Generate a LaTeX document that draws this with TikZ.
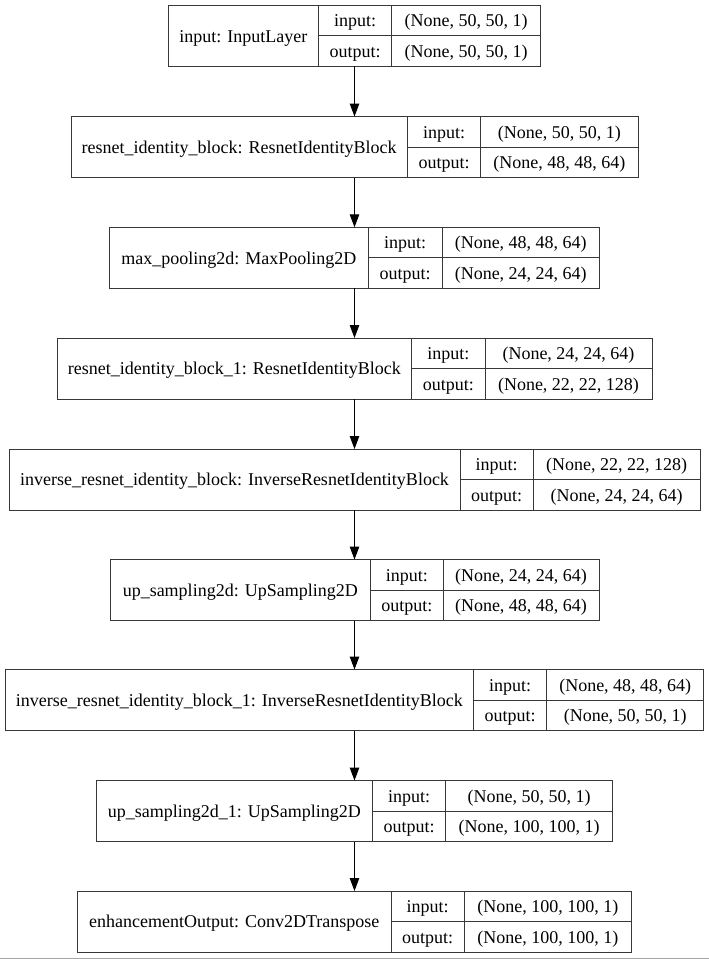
\documentclass[tikz,border=0pt]{standalone}
\usepackage{fontspec}
\setmainfont{Liberation Serif}
\usetikzlibrary{arrows.meta}
\tikzset{
  fullbox/.style={rectangle, inner sep=0pt, outer sep=0pt, minimum height=61pt},
  cellbox/.style={rectangle, draw=black!78, line width=0.9pt, inner sep=0pt, outer sep=0pt,
    text height=14.5pt, text depth=2pt, font=\fontsize{18}{20}\selectfont},
  flow/.style={draw=black, line width=1.1pt, -{Triangle[length=13pt,width=9.5pt]}},
}
% #1 id, #2 top, #3 left, #4 divider1, #5 divider2, #6 right, #7 label, #8 input, #9 output
\newcommand{\klayer}[9]{%
  \node[fullbox, minimum width={(#6-#3)*1pt}] (#1) at ({(#3+#6)/2},{#2+30.5}) {};
  \node[cellbox, minimum width={(#4-#3)*1pt}, minimum height=61pt] (#1name) at ({(#3+#4)/2},{#2+30.5}) {#7};
  \node[cellbox, minimum width={(#5-#4)*1pt}, minimum height=30.5pt] (#1inl) at ({(#4+#5)/2},{#2+15.25}) {input:};
  \node[cellbox, minimum width={(#5-#4)*1pt}, minimum height=30.5pt] (#1outl) at ({(#4+#5)/2},{#2+45.75}) {output:};
  \node[cellbox, minimum width={(#6-#5)*1pt}, minimum height=30.5pt] (#1inv) at ({(#5+#6)/2},{#2+15.25}) {#8};
  \node[cellbox, minimum width={(#6-#5)*1pt}, minimum height=30.5pt] (#1outv) at ({(#5+#6)/2},{#2+45.75}) {#9};
}
\begin{document}
\begin{tikzpicture}[x=1pt,y=-1pt]
\useasboundingbox (0,0) rectangle (709,959);
\fill[white] (0,0) rectangle (709,959);
\klayer{b1}{5.3}{168.5}{318.3}{391.7}{540.5}{input: InputLayer}{(None, 50, 50, 1)}{(None, 50, 50, 1)}
\klayer{b2}{116.5}{71}{407.3}{480.7}{638}{resnet\_identity\_block: ResnetIdentityBlock}{(None, 50, 50, 1)}{(None, 48, 48, 64)}
\klayer{b3}{227.3}{109.5}{368.3}{442}{599.5}{max\_pooling2d: MaxPooling2D}{(None, 48, 48, 64)}{(None, 24, 24, 64)}
\klayer{b4}{338}{57}{411.7}{485}{652}{resnet\_identity\_block\_1: ResnetIdentityBlock}{(None, 24, 24, 64)}{(None, 22, 22, 128)}
\klayer{b5}{449}{9}{460}{533.3}{700}{inverse\_resnet\_identity\_block: InverseResnetIdentityBlock}{(None, 22, 22, 128)}{(None, 24, 24, 64)}
\klayer{b6}{559.5}{110}{370.5}{443}{599}{up\_sampling2d: UpSampling2D}{(None, 24, 24, 64)}{(None, 48, 48, 64)}
\klayer{b7}{669.5}{5.3}{473.4}{546.8}{703.7}{inverse\_resnet\_identity\_block\_1: InverseResnetIdentityBlock}{(None, 48, 48, 64)}{(None, 50, 50, 1)}
\klayer{b8}{780.5}{96.4}{372.3}{445.7}{612.6}{up\_sampling2d\_1: UpSampling2D}{(None, 50, 50, 1)}{(None, 100, 100, 1)}
\klayer{b9}{891}{77.4}{391}{464.3}{631.6}{enhancementOutput: Conv2DTranspose}{(None, 100, 100, 1)}{(None, 100, 100, 1)}
\foreach \a/\b in {b1/b2,b2/b3,b3/b4,b4/b5,b5/b6,b6/b7,b7/b8,b8/b9}
  \draw[flow] (\a.south) -- (\b.north);
\coordinate (gl) at (0,958.3);
\coordinate (gr) at (709,958.3);
\draw[black!35, line width=1pt] (gl) -- (gr);
\end{tikzpicture}
\end{document}
